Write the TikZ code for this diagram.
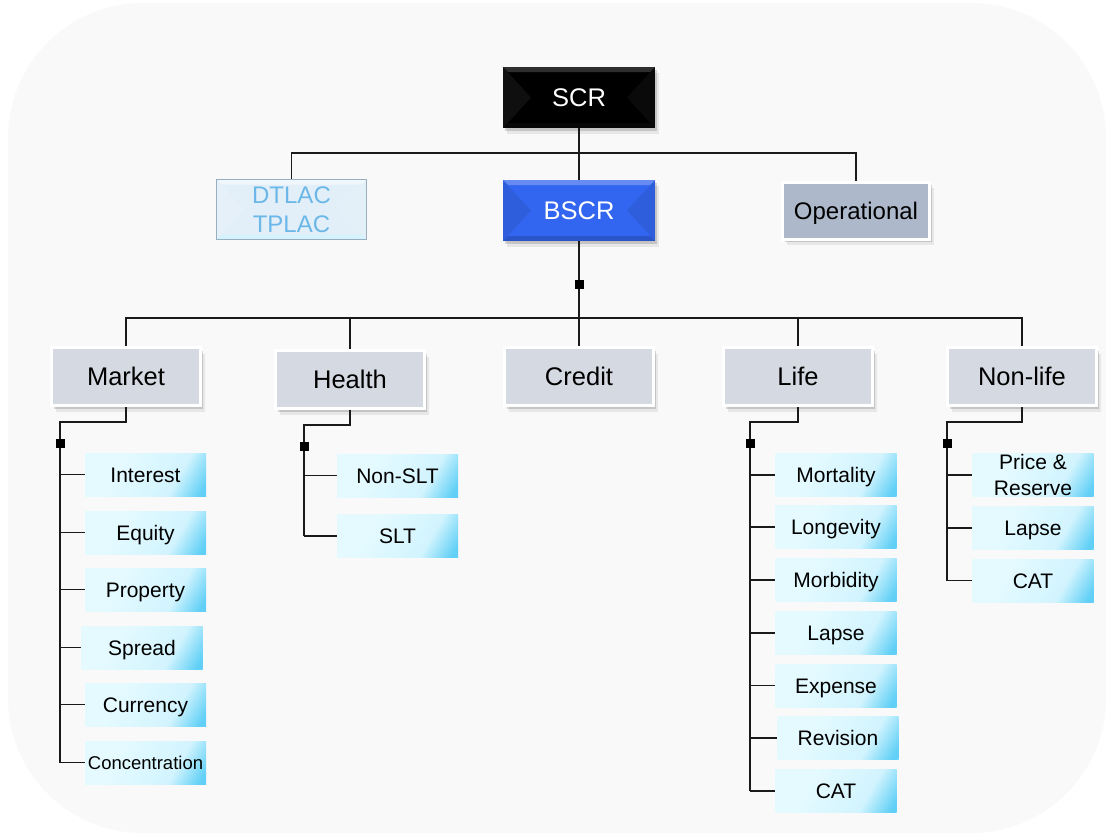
\documentclass[tikz,border=0pt]{standalone}
\usepackage{fontspec}
\setmainfont{Liberation Sans}
\usetikzlibrary{shadows,calc}

\definecolor{bgpanel}{HTML}{F9F9F9}
\definecolor{tierfill}{HTML}{D5DAE2}
\definecolor{opfill}{HTML}{ADB8CA}
\definecolor{bscrblue}{HTML}{3366F0}
\definecolor{dtfill}{HTML}{E2EFF8}
\definecolor{dtborder}{HTML}{98AFC2}
\definecolor{dttext}{HTML}{6BB8E8}
\definecolor{tileA}{HTML}{E4FAFF}
\definecolor{tileB}{HTML}{D2F4FE}
\definecolor{tileC}{HTML}{62D0F6}
\definecolor{wire}{HTML}{1A1A1A}

% light cyan tile with a saturated lower-right corner
\pgfdeclarehorizontalshading{tilecyan}{100bp}{color(0bp)=(tileA); color(35bp)=(tileA); color(66bp)=(tileB); color(81bp)=(tileC); color(100bp)=(tileC)}

\tikzset{
  softshadow/.style={
    drop shadow={shadow xshift=2pt,shadow yshift=-3pt,opacity=.14,fill=black},
    drop shadow={shadow xshift=4pt,shadow yshift=-6pt,opacity=.07,fill=black}},
  % bevelled face: side wedges, top band, bottom band
  bevel/.style n args={4}{path picture={
    \fill[#1] (path picture bounding box.north west) -- ($(path picture bounding box.west)+(28pt,0pt)$) -- (path picture bounding box.south west) -- cycle;
    \fill[#2] (path picture bounding box.north east) -- ($(path picture bounding box.east)+(-28pt,0pt)$) -- (path picture bounding box.south east) -- cycle;
    \fill[#3] (path picture bounding box.north west) -- (path picture bounding box.north east) -- ($(path picture bounding box.north east)+(-5pt,-5pt)$) -- ($(path picture bounding box.north west)+(5pt,-5pt)$) -- cycle;
    \fill[#4] (path picture bounding box.south west) -- (path picture bounding box.south east) -- ($(path picture bounding box.south east)+(-5pt,5pt)$) -- ($(path picture bounding box.south west)+(5pt,5pt)$) -- cycle;
  }},
  % box height equal to the cap height, so capitals sit on the centre line
  capcentre/.style={text height=#1, text depth=0pt},
  bigfont/.style={font=\fontsize{25.5}{30}\selectfont, capcentre=18.3pt},
  midfont/.style={font=\fontsize{24}{29}\selectfont, capcentre=17.2pt},
  smallfont/.style={font=\fontsize{21}{24}\selectfont, capcentre=15pt},
  scrbox/.style={fill=black, text=white, minimum width=152pt, minimum height=61pt, inner sep=0pt, bigfont, softshadow,
    bevel={white,opacity=.06}{white,opacity=.04}{white,opacity=.18}{white,opacity=.03}},
  bscrbox/.style={fill=bscrblue, text=white, minimum width=152pt, minimum height=61pt, inner sep=0pt, bigfont, softshadow,
    bevel={black,opacity=.08}{black,opacity=.08}{white,opacity=.25}{black,opacity=.16}},
  dtbox/.style={fill=dtfill, draw=dtborder, line width=1.5pt, text=dttext, minimum width=150pt, minimum height=60pt, inner sep=0pt,
    align=center, midfont, capcentre=46.2pt,
    bevel={white,opacity=.12}{white,opacity=.10}{white,opacity=.5}{tileB,opacity=.8}},
  opbox/.style={fill=opfill, draw=white, line width=3pt, minimum width=147pt, minimum height=57pt, inner sep=0pt,
    midfont, softshadow},
  tier/.style={fill=tierfill, draw=white, line width=3pt, minimum width=149pt, minimum height=58pt, inner sep=0pt,
    bigfont, softshadow},
  tile/.style={shade, shading=tilecyan, shading angle=-30, minimum width=121pt, minimum height=43pt, inner sep=0pt,
    align=center, smallfont},
  wireline/.style={draw=wire, line width=1.5pt},
  spine/.style={draw=wire, line width=2.2pt},
  joint/.style={fill=black, minimum size=9pt, inner sep=0pt},
}

\begin{document}
\begin{tikzpicture}[x=1pt,y=-1pt]
  \useasboundingbox (0,0) rectangle (1106,835);
  \fill[white] (0,0) rectangle (1106,835);
  \fill[bgpanel, rounded corners=135pt] (8,3) rectangle (1106,833);

  % top level
  \node[scrbox] (scr) at (579,97.5) {SCR};
  \node[dtbox] (dtlac) at (291.5,209.5) {DTLAC\\TPLAC};
  \node[bscrbox] (bscr) at (579,210.5) {BSCR};
  \node[opbox] (oper) at (856,210.5) {Operational};

  % risk modules
  \node[tier] (market) at (126,376.5) {Market};
  \node[tier] (health) at (350,379.5) {Health};
  \node[tier] (credit) at (579,376.5) {Credit};
  \node[tier] (life) at (798,376.5) {Life};
  \node[tier] (nonlife) at (1022,376.5) {Non-life};

  % market sub-modules
  \node[tile] (interest) at (145.5,474.5) {Interest};
  \node[tile] (equity) at (145.5,532.5) {Equity};
  \node[tile] (property) at (145.5,589.5) {Property};
  \node[tile] (spread) at (142,647.5) {Spread};
  \node[tile] (currency) at (145.5,704.5) {Currency};
  \node[tile, font=\fontsize{18.5}{22}\selectfont, capcentre=13.2pt] (conc) at (145.5,762.5) {Concentration};

  % health sub-modules
  \node[tile] (nonslt) at (397.5,475.5) {Non-SLT};
  \node[tile] (slt) at (397.5,536) {SLT};

  % life sub-modules
  \node[tile] (mort) at (836,475) {Mortality};
  \node[tile] (longev) at (836,527) {Longevity};
  \node[tile] (morb) at (836,580) {Morbidity};
  \node[tile] (llapse) at (836,633) {Lapse};
  \node[tile] (expense) at (836,685.5) {Expense};
  \node[tile] (revision) at (838,738) {Revision};
  \node[tile] (lcat) at (836,791) {CAT};

  % non-life sub-modules
  \node[tile, font=\fontsize{21}{26}\selectfont, capcentre=41pt] (premres) at (1033,475) {Price \&\\Reserve};
  \node[tile] (nlapse) at (1033,528) {Lapse};
  \node[tile] (ncat) at (1033,580.5) {CAT};

  % upper connectors
  \coordinate (topbus) at (579,153);
  \draw[wireline] (scr.south) -- (bscr.north);
  \draw[wireline] (dtlac.north) |- (topbus) -| (oper.north);

  % module bus
  \coordinate (midbus) at (579,318);
  \draw[wireline] (bscr.south) -- (credit.north);
  \draw[wireline] (market.north) |- (midbus) -| (nonlife.north);
  \draw[wireline] (health.north) -- (health.north |- midbus);
  \draw[wireline] (life.north) -- (life.north |- midbus);
  \node[joint] (bjoint) at (579,284) {};

  % market branch
  \coordinate (mk) at (60,443);
  \draw[wireline] (market.south) -- ++(0,15) -| (mk);
  \draw[spine] (mk) -- (mk |- conc.west);
  \draw[wireline] (mk |- conc.west) -- (conc.west);
  \foreach \c in {interest,equity,property,spread,currency}
    \draw[wireline] (mk |- \c.west) -- (\c.west);
  \node[joint] (mkjoint) at (mk) {};

  % health branch
  \coordinate (hk) at (304,446);
  \draw[wireline] (health.south) -- ++(0,15) -| (hk);
  \draw[spine] (hk) -- (hk |- slt.west);
  \draw[wireline] (hk |- slt.west) -- (slt.west);
  \draw[wireline] (hk |- nonslt.west) -- (nonslt.west);
  \node[joint] (hkjoint) at (hk) {};

  % life branch
  \coordinate (lk) at (750,443);
  \draw[wireline] (life.south) -- ++(0,15) -| (lk);
  \draw[spine] (lk) -- (lk |- lcat.west);
  \draw[wireline] (lk |- lcat.west) -- (lcat.west);
  \foreach \c in {mort,longev,morb,llapse,expense,revision}
    \draw[wireline] (lk |- \c.west) -- (\c.west);
  \node[joint] (lkjoint) at (lk) {};

  % non-life branch
  \coordinate (nk) at (947,443);
  \draw[wireline] (nonlife.south) -- ++(0,15) -| (nk);
  \draw[spine] (nk) -- (nk |- ncat.west);
  \draw[wireline] (nk |- ncat.west) -- (ncat.west);
  \foreach \c in {premres,nlapse}
    \draw[wireline] (nk |- \c.west) -- (\c.west);
  \node[joint] (nkjoint) at (nk) {};
\end{tikzpicture}
\end{document}
